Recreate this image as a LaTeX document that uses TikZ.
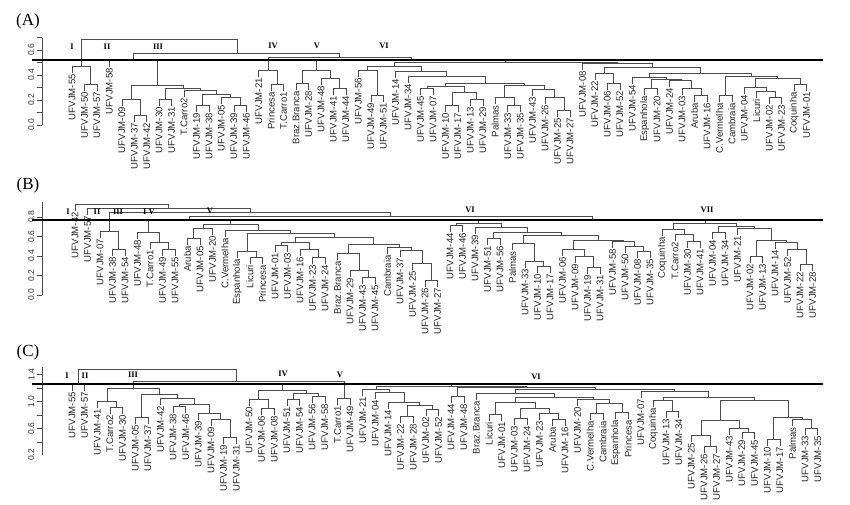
\documentclass[tikz,border=0pt]{standalone}
\usepackage{fontspec}
\setmainfont{Liberation Serif}
\newfontfamily\arial{Liberation Sans}
\usetikzlibrary{positioning}

% bracket: left leg (x1,y1), right leg (x2,y2), joined at height y
\newcommand{\br}[5]{\draw[dend] (#1,#2) |- (#3,#5) -- (#3,#4);}

\begin{document}
\begin{tikzpicture}[x=1pt,y=-1pt,
    dend/.style={draw=black!70,line width=0.55pt},
    cut/.style={draw=black,line width=1.3pt},
    axisline/.style={draw=black!70,line width=0.55pt},
    leaf/.style={rotate=90,anchor=east,inner sep=1pt,font=\arial\fontsize{9.6}{9}\selectfont,text=black!85},
    ticklab/.style={rotate=90,anchor=south,inner sep=1.5pt,font=\arial\fontsize{8.5}{8}\selectfont,text=black!80},
    grp/.style={font=\bfseries\fontsize{8.5}{8}\selectfont,inner sep=0pt},
    panel/.style={font=\fontsize{17}{17}\selectfont,inner sep=0pt}
    ]
\useasboundingbox (0,0) rectangle (850,504);

% ---------------- (A) ----------------
\node[panel] (pA) at (28,21) {(A)};
\draw[axisline] (42,37.5) -- (42,125);
\foreach \t in {37.5,50,...,125} \draw[axisline] (42,\t) -- (37,\t);
\foreach \t/\v in {50/0.6,75/0.4,100/0.2,125/0.0} \node[ticklab] at (36,\t) {\v};
\foreach \lab/\yt [count=\i from 0] in {UFVJM-55/66,UFVJM-50/84,UFVJM-57/84,UFVJM-58/60,UFVJM-09/99,UFVJM-37/115,UFVJM-42/115,UFVJM-30/99,UFVJM-31/99,T.Carro2/90,UFVJM-19/105,UFVJM-38/105,UFVJM-05/97,UFVJM-39/105,UFVJM-46/105,UFVJM-21/70,Princesa/84,T.Carro1/84,Braz.Branca/83,UFVJM-28/83,UFVJM-48/78,UFVJM-41/88,UFVJM-44/88,UFVJM-56/70,UFVJM-49/95,UFVJM-51/95,UFVJM-14/71,UFVJM-34/76,UFVJM-45/88,UFVJM-07/88,UFVJM-10/105,UFVJM-17/105,UFVJM-13/99,UFVJM-29/99,Palmas/97,UFVJM-33/105,UFVJM-35/105,UFVJM-43/89,UFVJM-26/97,UFVJM-25/110,UFVJM-27/110,UFVJM-08/63,UFVJM-22/73,UFVJM-06/83,UFVJM-52/83,UFVJM-54/77,Espanhola/88,UFVJM-20/88,UFVJM-24/80,UFVJM-03/88,Aruba/95,UFVJM-16/95,C.Vermelha/95,Cambraia/95,UFVJM-04/87,Licuri/91,UFVJM-02/97,UFVJM-23/97,Coquinha/84,UFVJM-01/84}
  \draw[dend] (72+12.45*\i,\yt) -- ++(0,7) node[leaf] {\lab};
\br{84.5}{84}{97}{84}{84}
\br{72}{66}{90.75}{84}{66}
\br{81.4}{66}{237}{53}{39}
\br{133}{60}{339.5}{57}{53}
\br{134}{115}{147}{115}{115}
\br{122}{99}{140.5}{115}{99}
\br{159}{99}{172}{99}{99}
\br{196.5}{105}{209}{105}{105}
\br{234}{105}{246}{105}{105}
\br{221}{97}{240}{105}{97}
\br{202.75}{105}{230.5}{97}{94}
\br{184}{90}{216.6}{94}{90}
\br{165.5}{99}{200.3}{90}{88}
\br{131}{99}{183}{88}{85}
\draw[dend] (133,60) -| (157,85);
\br{271}{84}{284}{84}{84}
\br{259}{70}{277.5}{84}{70}
\br{296}{83}{309}{83}{83}
\br{333}{88}{346}{88}{88}
\br{321}{78}{339.5}{88}{78}
\br{302.5}{83}{330}{78}{70}
\br{371}{95}{383}{95}{95}
\br{358}{70}{377}{95}{70}
\br{420.6}{88}{433}{88}{88}
\br{445.5}{105}{458}{105}{105}
\br{470}{99}{483}{99}{99}
\br{452}{105}{476.5}{99}{92}
\br{427}{88}{464}{92}{86}
\br{508}{105}{520}{105}{105}
\br{495}{97}{514}{105}{97}
\br{558}{110}{570}{110}{110}
\br{545}{97}{564}{110}{97}
\br{533}{89}{554.5}{97}{89}
\br{504.5}{97}{544}{89}{85}
\br{445.5}{86}{524}{85}{83}
\br{408}{76}{485}{83}{76}
\br{396}{71}{446.5}{76}{71}
\br{367.5}{70}{421}{71}{66}
\br{607}{83}{620}{83}{83}
\br{595}{73}{613.5}{83}{73}
\br{645}{88}{657}{88}{88}
\br{694.5}{95}{707}{95}{95}
\br{682}{88}{701}{95}{88}
\br{670}{80}{691.5}{88}{80}
\br{651}{88}{681}{80}{79}
\br{632}{77}{666}{79}{77}
\br{719}{95}{732}{95}{95}
\br{769}{97}{782}{97}{97}
\br{757}{91}{775.5}{97}{91}
\br{744}{87}{766}{91}{87}
\br{794}{84}{806}{84}{84}
\br{755}{87}{800}{84}{78}
\br{725.5}{95}{777.5}{78}{76}
\br{649}{77}{751.5}{76}{73}
\br{604}{73}{700}{73}{67}
\br{582}{63}{652}{67}{63}
\br{394}{66}{617}{63}{62}
\br{316}{70}{505.5}{62}{60}
\br{268}{70}{411}{60}{57}
\draw[cut] (32,60) -- (823,60);
\foreach \g/\gx/\gy in {I/72/47,II/107/47,III/158/47,IV/273/46,V/317/46,VI/384/46}
  \node[grp] at (\gx,\gy) {\g};

% ---------------- (B) ----------------
\node[panel] (pB) at (28,185) {(B)};
\draw[axisline] (42,202) -- (42,295);
\foreach \t/\v in {295/0.0,275.5/0.2,256/0.4,236.5/0.6,217/0.8} {
  \draw[axisline] (42,\t) -- (37,\t);
  \node[ticklab] at (36,\t) {\v};}
\foreach \lab/\yt [count=\i from 0] in {UFVJM-42/204,UFVJM-57/208,UFVJM-07/231,UFVJM-38/249,UFVJM-54/249,UFVJM-48/232,T.Carro1/242,UFVJM-49/249,UFVJM-55/249,Aruba/238,UFVJM-05/238,UFVJM-20/228,C.Vermelha/230,Espanhola/251,Licuri/257,Princesa/257,UFVJM-01/245,UFVJM-03/245,UFVJM-16/249,UFVJM-23/257,UFVJM-24/257,Braz.Branca/253,UFVJM-29/270,UFVJM-43/277,UFVJM-45/277,Cambraia/247,UFVJM-37/250,UFVJM-25/263,UFVJM-26/280,UFVJM-27/280,UFVJM-44/225,UFVJM-46/225,UFVJM-39/227,UFVJM-51/238,UFVJM-56/238,Palmas/243,UFVJM-33/261,UFVJM-10/266,UFVJM-17/266,UFVJM-06/249,UFVJM-09/256,UFVJM-19/267,UFVJM-31/267,UFVJM-58/241,UFVJM-50/246,UFVJM-08/251,UFVJM-35/251,Coquinha/229,T.Carro2/234,UFVJM-30/241,UFVJM-41/241,UFVJM-04/232,UFVJM-34/232,UFVJM-21/228,UFVJM-02/256,UFVJM-13/256,UFVJM-14/242,UFVJM-52/249,UFVJM-22/264,UFVJM-28/264}
  \draw[dend] (75+12.5*\i,\yt) -- ++(0,7) node[leaf] {\lab};
\br{112.5}{249}{125}{249}{249}
\br{100}{231}{118.75}{249}{231}
\br{162.5}{249}{175}{249}{249}
\br{150}{242}{168.75}{249}{242}
\br{137.5}{232}{159.4}{242}{232}
\br{187.5}{238}{200}{238}{238}
\br{193.75}{238}{212.5}{228}{228}
\br{250}{257}{262.5}{257}{257}
\br{237.5}{251}{256.25}{257}{251}
\br{275}{245}{287.5}{245}{245}
\br{312.5}{257}{325}{257}{257}
\br{300}{249}{318.75}{257}{249}
\br{281.25}{245}{309.4}{249}{242}
\br{362.5}{277}{375}{277}{277}
\br{350}{270}{368.75}{277}{270}
\br{337.5}{253}{359.4}{270}{253}
\br{425}{280}{437.5}{280}{280}
\br{412.5}{263}{431.25}{280}{263}
\br{400}{250}{421.9}{263}{250}
\br{387.5}{247}{411}{250}{247}
\br{348.4}{253}{399}{247}{244}
\br{295.3}{242}{373.7}{244}{237}
\br{246.9}{251}{334.5}{237}{233}
\br{225}{230}{290.7}{233}{230}
\br{203}{228}{257.9}{230}{224}
\br{148.4}{232}{230.5}{224}{220}
\br{450}{225}{462.5}{225}{225}
\br{487.5}{238}{500}{238}{238}
\br{537.5}{266}{550}{266}{266}
\br{525}{261}{543.75}{266}{261}
\br{512.5}{243}{534.4}{261}{243}
\br{587.5}{267}{600}{267}{267}
\br{575}{256}{593.75}{267}{256}
\br{562.5}{249}{584.4}{256}{249}
\br{637.5}{251}{650}{251}{251}
\br{625}{246}{643.75}{251}{246}
\br{612.5}{241}{634.4}{246}{241}
\br{573.5}{249}{623.5}{241}{240}
\br{523.4}{243}{598.5}{240}{235}
\br{493.75}{238}{561}{235}{232}
\br{475}{227}{527.4}{232}{227}
\br{456.25}{225}{501}{227}{223}
\br{687.5}{241}{700}{241}{241}
\br{675}{234}{693.75}{241}{234}
\br{662.5}{229}{684.4}{234}{229}
\br{712.5}{232}{725}{232}{232}
\br{750}{256}{762.5}{256}{256}
\br{800}{264}{812.5}{264}{264}
\br{787.5}{249}{806.25}{264}{249}
\br{775}{242}{796.9}{249}{242}
\br{756.25}{256}{786}{242}{240}
\br{737.5}{228}{771}{240}{228}
\br{718.75}{232}{754}{228}{226}
\br{673.5}{229}{736.4}{226}{223}
\br{478.6}{223}{705}{223}{220}
\br{189.5}{220}{592}{220}{216}
\br{109.4}{231}{390.7}{216}{212}
\br{87.5}{208}{250}{212}{208}
\br{75}{204}{168.75}{208}{204}
\draw[cut] (32,220) -- (823,220);
\foreach \g/\gx/\gy in {I/68/212,II/97/212,III/118/212,I V/149/212,V/210/211,VI/470/210,VII/707/210}
  \node[grp] at (\gx,\gy) {\g};

% ---------------- (C) ----------------
\node[panel] (pC) at (28,352) {(C)};
\draw[axisline] (42,367) -- (42,455);
\foreach \t in {374.5,388,...,455} \draw[axisline] (42,\t) -- (37,\t);
\foreach \t/\v in {455/0.2,428.5/0.6,401.5/1.0,374.5/1.4} \node[ticklab] at (36,\t) {\v};
\foreach \lab/\yt [count=\i from 0] in {UFVJM-55/384,UFVJM-57/384,UFVJM-41/401,T.Carro2/407,UFVJM-30/407,UFVJM-05/417,UFVJM-37/417,UFVJM-42/398,UFVJM-38/406,UFVJM-46/406,UFVJM-39/413,UFVJM-09/419,UFVJM-19/437,UFVJM-31/437,UFVJM-50/399,UFVJM-06/408,UFVJM-08/408,UFVJM-51/399,UFVJM-54/399,UFVJM-56/396,UFVJM-58/396,T.Carro1/398,UFVJM-49/398,UFVJM-21/389,UFVJM-04/392,UFVJM-14/402,UFVJM-22/416,UFVJM-28/416,UFVJM-02/409,UFVJM-52/409,UFVJM-44/396,UFVJM-48/396,Braz.Branca/393,Licuri/414,UFVJM-01/414,UFVJM-03/418,UFVJM-24/418,UFVJM-23/413,Aruba/419,UFVJM-16/419,UFVJM-20/399,C.Vermelha/413,Cambraia/413,Espanhola/412,Princesa/412,UFVJM-07/391,Coquinha/400,UFVJM-13/411,UFVJM-34/411,UFVJM-25/435,UFVJM-26/446,UFVJM-27/446,UFVJM-43/428,UFVJM-29/432,UFVJM-45/432,UFVJM-10/439,UFVJM-17/439,Palmas/419,UFVJM-33/428,UFVJM-35/428}
  \draw[dend] (72+12.64*\i,\yt) -- ++(0,7) node[leaf] {\lab};
\br{72}{384}{84.6}{384}{383}
\br{78.3}{383}{236}{381}{369}
\br{109.9}{407}{122.6}{407}{407}
\br{97.3}{401}{116.25}{407}{401}
\br{135.2}{417}{147.8}{417}{417}
\br{223.7}{437}{236.3}{437}{437}
\br{211}{419}{230}{437}{419}
\br{198.4}{413}{220.5}{419}{413}
\br{173.1}{406}{185.8}{406}{406}
\br{179.5}{406}{209.5}{413}{404}
\br{160.5}{398}{194.5}{404}{398}
\br{141.5}{417}{177.5}{398}{394}
\br{106.8}{401}{159.5}{394}{388}
\br{133}{388}{343.8}{398}{381}
\br{261.6}{408}{274.2}{408}{408}
\br{249}{399}{267.9}{408}{399}
\br{286.9}{399}{299.5}{399}{399}
\br{312.2}{396}{324.8}{396}{396}
\br{293.2}{399}{318.5}{396}{393}
\br{258.5}{399}{305.9}{393}{390}
\br{337.4}{398}{350.1}{398}{398}
\br{400.6}{416}{413.3}{416}{416}
\br{425.9}{409}{438.6}{409}{409}
\br{407}{416}{432.3}{409}{405}
\br{388}{402}{419.6}{405}{402}
\br{375.4}{392}{403.8}{402}{392}
\br{362.7}{389}{389.6}{392}{389}
\br{451.2}{396}{463.8}{396}{396}
\br{489.1}{414}{501.8}{414}{414}
\br{514.4}{418}{527}{418}{418}
\br{552.3}{419}{565}{419}{419}
\br{539.7}{413}{558.7}{419}{413}
\br{520.7}{418}{549.2}{413}{408}
\br{495.5}{414}{535}{408}{402}
\br{590.2}{413}{602.9}{413}{413}
\br{615.5}{412}{628.2}{412}{412}
\br{596.5}{413}{621.8}{412}{403}
\br{577.6}{399}{609}{403}{399}
\br{515.2}{402}{593.3}{399}{397}
\br{476.5}{393}{554}{397}{393}
\br{666.1}{411}{678.7}{411}{411}
\br{653.4}{400}{672.4}{411}{400}
\br{704}{446}{716.6}{446}{446}
\br{691.4}{435}{710.3}{446}{435}
\br{741.9}{432}{754.6}{432}{432}
\br{729.3}{428}{748.3}{432}{428}
\br{700.9}{435}{738.8}{428}{420}
\br{767.2}{439}{779.8}{439}{439}
\br{805.1}{428}{817.8}{428}{428}
\br{792.5}{419}{811.5}{428}{419}
\br{773.5}{439}{802}{419}{417}
\br{719.9}{420}{787.8}{417}{400}
\br{662.9}{400}{753.9}{400}{397}
\br{640.8}{391}{708.4}{397}{391}
\br{515}{393}{674.6}{391}{389}
\br{457.5}{396}{594.8}{389}{387}
\br{376.2}{389}{526}{387}{386}
\br{282.2}{390}{451}{386}{384}
\draw[cut] (32,384) -- (823,384);
\foreach \g/\gx/\gy in {I/67/376,II/85/376,III/133/375,IV/283/374,V/340/375,VI/536/377}
  \node[grp] at (\gx,\gy) {\g};

\end{tikzpicture}
\end{document}
